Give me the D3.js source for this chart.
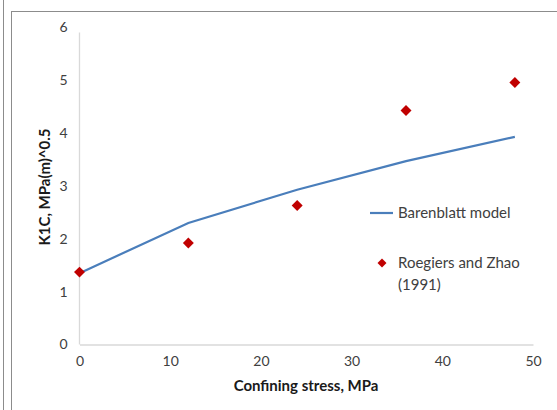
<!DOCTYPE html>
<html><head><meta charset="utf-8">
<script src="https://cdn.jsdelivr.net/npm/d3@7"></script>
<style>body{margin:0;background:#fff}svg{display:block}</style>
</head><body>
<script>
const stress = [0, 12, 24, 36, 48];
const modelValues = [1.35, 2.3, 2.93, 3.47, 3.93];
const expStress = [0, 12, 24, 36, 48];
const expValues = [1.37, 1.92, 2.63, 4.43, 4.96];
const xTicks = [0, 10, 20, 30, 40, 50];
const yTicks = [0, 1, 2, 3, 4, 5, 6];
const seriesNames = ["Barenblatt model", "Roegiers and Zhao", "(1991)"];

const W = 557, H = 410;
const svg = d3.select("body").append("svg").attr("width", W).attr("height", H);
const font = "Lato, 'Open Sans', sans-serif";

// frame
svg.append("line").attr("x1", 3.5).attr("x2", 3.5).attr("y1", 0).attr("y2", H).attr("stroke", "#8c8c8c");
svg.append("line").attr("x1", 11.5).attr("x2", 11.5).attr("y1", 11).attr("y2", H).attr("stroke", "#8c8c8c");
svg.append("line").attr("x1", 11).attr("x2", W).attr("y1", 11.5).attr("y2", 11.5).attr("stroke", "#8c8c8c");

const x = d3.scaleLinear().domain([0, 50]).range([79.5, 533]);
const y = d3.scaleLinear().domain([0, 6]).range([344.5, 27.5]);

const xAxis = svg.append("g").attr("transform", `translate(0,${y(0)})`)
  .call(d3.axisBottom(x).tickValues(xTicks).tickFormat(d3.format("d")).tickSize(0).tickPadding(12));
const yAxis = svg.append("g").attr("transform", `translate(${x(0)},0)`)
  .call(d3.axisLeft(y).tickValues(yTicks).tickFormat(d3.format("d")).tickSize(0).tickPadding(12));
[xAxis, yAxis].forEach(g => {
  g.select(".domain").attr("stroke", "#d9d9d9").attr("stroke-width", 1.3);
  g.selectAll("text").attr("font-family", font).attr("font-size", 14).attr("fill", "#404040");
});
yAxis.select(".domain").attr("d", `M0,${y(0)}V${y(6) + 5}`);

svg.append("text").attr("x", 306).attr("y", 391).attr("text-anchor", "middle")
  .attr("font-family", font).attr("font-size", 15).attr("font-weight", "bold").attr("fill", "#1a1a1a")
  .text("Confining stress, MPa");
svg.append("text").attr("transform", "translate(50,187) rotate(-90)").attr("text-anchor", "middle")
  .attr("font-family", font).attr("font-size", 15).attr("font-weight", "bold").attr("fill", "#1a1a1a")
  .text("K1C, MPa(m)^0.5");

const line = d3.line().x((d, i) => x(stress[i])).y(d => y(d));
svg.append("path").datum(modelValues).attr("d", line).attr("fill", "none")
  .attr("stroke", "#4a7ebb").attr("stroke-width", 2.2);

const sym = d3.symbol().type(d3.symbolSquare).size(60);
svg.selectAll(".pt").data(expValues).enter().append("path")
  .attr("transform", (d, i) => `translate(${x(expStress[i])},${y(d)}) rotate(45)`)
  .attr("d", sym).attr("fill", "#c00000");

// legend
svg.append("line").attr("x1", 370).attr("x2", 393).attr("y1", 213).attr("y2", 213)
  .attr("stroke", "#4a7ebb").attr("stroke-width", 2.2);
svg.append("text").attr("x", 398).attr("y", 218).attr("font-family", font).attr("font-size", 15)
  .attr("fill", "#404040").text(seriesNames[0]);
svg.append("path").attr("transform", "translate(382,263) rotate(45)")
  .attr("d", d3.symbol().type(d3.symbolSquare).size(40)).attr("fill", "#c00000");
svg.append("text").attr("x", 398).attr("y", 268).attr("font-family", font).attr("font-size", 15)
  .attr("fill", "#404040").text(seriesNames[1]);
svg.append("text").attr("x", 398).attr("y", 290).attr("font-family", font).attr("font-size", 15)
  .attr("fill", "#404040").text(seriesNames[2]);
</script>
</body></html>
